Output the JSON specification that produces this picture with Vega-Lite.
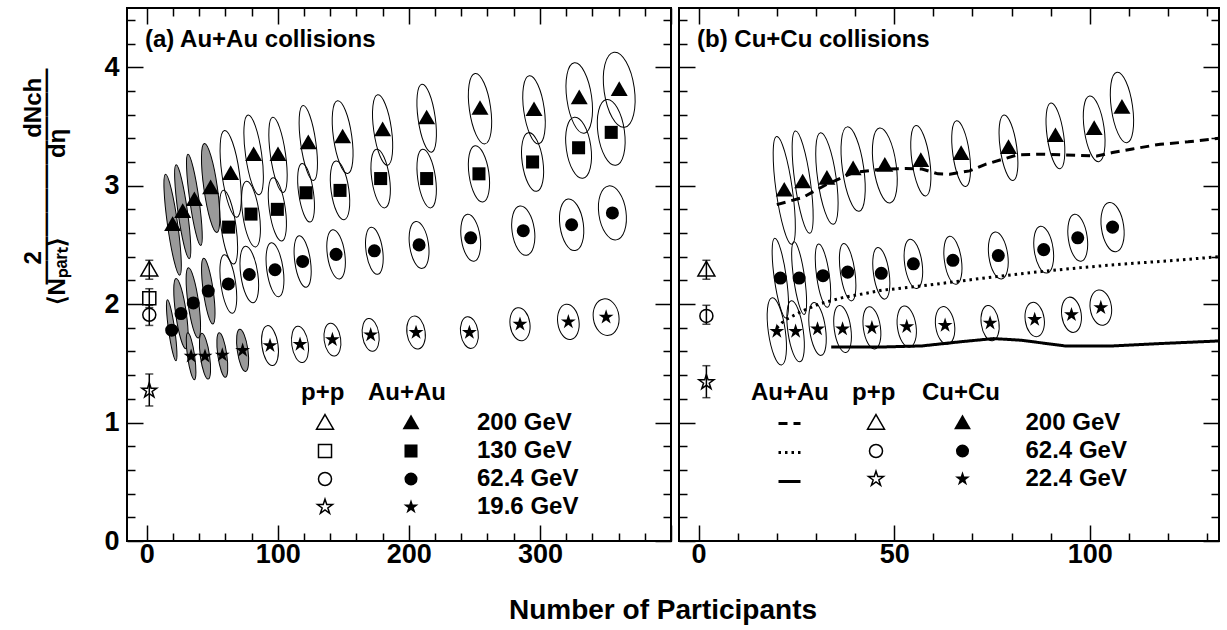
{
  "$schema": "https://vega.github.io/schema/vega-lite/v6.json",
  "background": "white",
  "padding": {"left": 20, "top": 6, "right": 0, "bottom": 0},
  "spacing": 4,
  "title": {"text": "Number of Participants", "orient": "bottom", "anchor": "middle", "fontSize": 28, "fontWeight": "bold", "font": "Liberation Sans", "color": "black", "offset": 29, "dx": 40},
  "config": {
    "font": "Liberation Sans",
    "view": {"stroke": "black", "strokeWidth": 2},
    "axis": {"domain": false, "grid": false, "ticks": true, "tickColor": "black", "tickWidth": 1.5, "labelFont": "Liberation Sans", "labelFontSize": 27, "labelFontWeight": "bold", "labelColor": "black", "titleFont": "Liberation Sans", "titleFontWeight": "bold", "titleColor": "black", "titleFontSize": 24},
    "legend": {"titleFont": "Liberation Sans", "titleFontSize": 24, "titleFontWeight": "bold", "titleColor": "black", "labelFont": "Liberation Sans", "labelFontSize": 24, "labelFontWeight": "bold", "labelColor": "black", "orient": "none", "padding": 0, "rowPadding": 4, "titlePadding": 6, "symbolSize": 170, "labelLimit": 300}
  },
  "datasets": {
    "au": [
      {"energy": "200 GeV", "npart": 19.8, "val": 2.67, "err": 0.43, "ar": 0.1, "band": "shaded"},
      {"energy": "200 GeV", "npart": 27.5, "val": 2.78, "err": 0.40, "ar": 0.1, "band": "shaded"},
      {"energy": "200 GeV", "npart": 36.4, "val": 2.88, "err": 0.39, "ar": 0.1, "band": "shaded"},
      {"energy": "200 GeV", "npart": 48.8, "val": 2.98, "err": 0.38, "ar": 0.15, "band": "shaded"},
      {"energy": "200 GeV", "npart": 64.1, "val": 3.10, "err": 0.37, "ar": 0.2, "band": "open"},
      {"energy": "200 GeV", "npart": 81.6, "val": 3.26, "err": 0.34, "ar": 0.2, "band": "open"},
      {"energy": "200 GeV", "npart": 100.2, "val": 3.26, "err": 0.32, "ar": 0.2, "band": "open"},
      {"energy": "200 GeV", "npart": 123.3, "val": 3.36, "err": 0.32, "ar": 0.2, "band": "open"},
      {"energy": "200 GeV", "npart": 149.5, "val": 3.41, "err": 0.31, "ar": 0.25, "band": "open"},
      {"energy": "200 GeV", "npart": 180, "val": 3.47, "err": 0.30, "ar": 0.25, "band": "open"},
      {"energy": "200 GeV", "npart": 213.6, "val": 3.57, "err": 0.29, "ar": 0.25, "band": "open"},
      {"energy": "200 GeV", "npart": 254.3, "val": 3.65, "err": 0.30, "ar": 0.3, "band": "open"},
      {"energy": "200 GeV", "npart": 295.5, "val": 3.64, "err": 0.29, "ar": 0.3, "band": "open"},
      {"energy": "200 GeV", "npart": 330, "val": 3.74, "err": 0.30, "ar": 0.35, "band": "open"},
      {"energy": "200 GeV", "npart": 360.5, "val": 3.81, "err": 0.32, "ar": 0.4, "band": "open"},
      {"energy": "130 GeV", "npart": 62.5, "val": 2.65, "err": 0.315, "ar": 0.2, "band": "open"},
      {"energy": "130 GeV", "npart": 79.6, "val": 2.76, "err": 0.28, "ar": 0.25, "band": "open"},
      {"energy": "130 GeV", "npart": 99.7, "val": 2.80, "err": 0.27, "ar": 0.25, "band": "open"},
      {"energy": "130 GeV", "npart": 121.6, "val": 2.94, "err": 0.25, "ar": 0.25, "band": "open"},
      {"energy": "130 GeV", "npart": 147.5, "val": 2.96, "err": 0.25, "ar": 0.3, "band": "open"},
      {"energy": "130 GeV", "npart": 178.5, "val": 3.06, "err": 0.25, "ar": 0.3, "band": "open"},
      {"energy": "130 GeV", "npart": 213.6, "val": 3.06, "err": 0.25, "ar": 0.3, "band": "open"},
      {"energy": "130 GeV", "npart": 253.5, "val": 3.10, "err": 0.24, "ar": 0.35, "band": "open"},
      {"energy": "130 GeV", "npart": 294.4, "val": 3.20, "err": 0.25, "ar": 0.35, "band": "open"},
      {"energy": "130 GeV", "npart": 329.5, "val": 3.32, "err": 0.26, "ar": 0.4, "band": "open"},
      {"energy": "130 GeV", "npart": 354.4, "val": 3.45, "err": 0.28, "ar": 0.4, "band": "open"},
      {"energy": "62.4 GeV", "npart": 19.1, "val": 1.78, "err": 0.26, "ar": 0.1, "band": "shaded"},
      {"energy": "62.4 GeV", "npart": 26.2, "val": 1.92, "err": 0.30, "ar": 0.15, "band": "shaded"},
      {"energy": "62.4 GeV", "npart": 35.6, "val": 2.01, "err": 0.30, "ar": 0.15, "band": "shaded"},
      {"energy": "62.4 GeV", "npart": 47, "val": 2.11, "err": 0.28, "ar": 0.15, "band": "shaded"},
      {"energy": "62.4 GeV", "npart": 62.3, "val": 2.17, "err": 0.25, "ar": 0.25, "band": "open"},
      {"energy": "62.4 GeV", "npart": 78.3, "val": 2.25, "err": 0.24, "ar": 0.3, "band": "open"},
      {"energy": "62.4 GeV", "npart": 97.9, "val": 2.29, "err": 0.23, "ar": 0.3, "band": "open"},
      {"energy": "62.4 GeV", "npart": 119, "val": 2.36, "err": 0.22, "ar": 0.3, "band": "open"},
      {"energy": "62.4 GeV", "npart": 144.5, "val": 2.42, "err": 0.21, "ar": 0.35, "band": "open"},
      {"energy": "62.4 GeV", "npart": 173.7, "val": 2.45, "err": 0.20, "ar": 0.35, "band": "open"},
      {"energy": "62.4 GeV", "npart": 207.8, "val": 2.50, "err": 0.20, "ar": 0.4, "band": "open"},
      {"energy": "62.4 GeV", "npart": 247.2, "val": 2.56, "err": 0.20, "ar": 0.4, "band": "open"},
      {"energy": "62.4 GeV", "npart": 287.3, "val": 2.62, "err": 0.21, "ar": 0.45, "band": "open"},
      {"energy": "62.4 GeV", "npart": 324.2, "val": 2.67, "err": 0.22, "ar": 0.45, "band": "open"},
      {"energy": "62.4 GeV", "npart": 355.3, "val": 2.77, "err": 0.23, "ar": 0.5, "band": "open"},
      {"energy": "19.6 GeV", "npart": 33.9, "val": 1.56, "err": 0.20, "ar": 0.15, "band": "shaded"},
      {"energy": "19.6 GeV", "npart": 44.5, "val": 1.56, "err": 0.195, "ar": 0.2, "band": "shaded"},
      {"energy": "19.6 GeV", "npart": 57.7, "val": 1.57, "err": 0.19, "ar": 0.2, "band": "shaded"},
      {"energy": "19.6 GeV", "npart": 73.2, "val": 1.61, "err": 0.18, "ar": 0.25, "band": "shaded"},
      {"energy": "19.6 GeV", "npart": 94.1, "val": 1.65, "err": 0.17, "ar": 0.4, "band": "open"},
      {"energy": "19.6 GeV", "npart": 117, "val": 1.66, "err": 0.155, "ar": 0.45, "band": "open"},
      {"energy": "19.6 GeV", "npart": 141.7, "val": 1.70, "err": 0.14, "ar": 0.5, "band": "open"},
      {"energy": "19.6 GeV", "npart": 170.9, "val": 1.74, "err": 0.14, "ar": 0.5, "band": "open"},
      {"energy": "19.6 GeV", "npart": 205.5, "val": 1.76, "err": 0.14, "ar": 0.55, "band": "open"},
      {"energy": "19.6 GeV", "npart": 246.2, "val": 1.76, "err": 0.135, "ar": 0.55, "band": "open"},
      {"energy": "19.6 GeV", "npart": 284.8, "val": 1.83, "err": 0.14, "ar": 0.6, "band": "open"},
      {"energy": "19.6 GeV", "npart": 321.7, "val": 1.85, "err": 0.15, "ar": 0.6, "band": "open"},
      {"energy": "19.6 GeV", "npart": 350.5, "val": 1.89, "err": 0.155, "ar": 0.7, "band": "open"}
    ],
    "aupp": [
      {"energy": "200 GeV", "npart": 2, "val": 2.29, "lo": 2.21, "hi": 2.37},
      {"energy": "130 GeV", "npart": 2, "val": 2.05, "lo": 1.97, "hi": 2.13},
      {"energy": "62.4 GeV", "npart": 2, "val": 1.91, "lo": 1.82, "hi": 1.99},
      {"energy": "19.6 GeV", "npart": 2, "val": 1.27, "lo": 1.14, "hi": 1.41}
    ],
    "cu": [
      {"energy": "200 GeV", "npart": 21.9, "val": 2.96, "err": 0.46, "ar": 0.15},
      {"energy": "200 GeV", "npart": 26.6, "val": 3.03, "err": 0.436, "ar": 0.15},
      {"energy": "200 GeV", "npart": 32.8, "val": 3.06, "err": 0.39, "ar": 0.2},
      {"energy": "200 GeV", "npart": 39.5, "val": 3.14, "err": 0.36, "ar": 0.25},
      {"energy": "200 GeV", "npart": 47.6, "val": 3.17, "err": 0.32, "ar": 0.3},
      {"energy": "200 GeV", "npart": 56.8, "val": 3.21, "err": 0.30, "ar": 0.25},
      {"energy": "200 GeV", "npart": 67.1, "val": 3.27, "err": 0.28, "ar": 0.25},
      {"energy": "200 GeV", "npart": 79.2, "val": 3.32, "err": 0.28, "ar": 0.25},
      {"energy": "200 GeV", "npart": 91.2, "val": 3.42, "err": 0.28, "ar": 0.25},
      {"energy": "200 GeV", "npart": 101.1, "val": 3.48, "err": 0.28, "ar": 0.3},
      {"energy": "200 GeV", "npart": 108.2, "val": 3.66, "err": 0.30, "ar": 0.3},
      {"energy": "62.4 GeV", "npart": 20.9, "val": 2.22, "err": 0.34, "ar": 0.15},
      {"energy": "62.4 GeV", "npart": 25.7, "val": 2.22, "err": 0.31, "ar": 0.15},
      {"energy": "62.4 GeV", "npart": 31.8, "val": 2.24, "err": 0.27, "ar": 0.2},
      {"energy": "62.4 GeV", "npart": 38.1, "val": 2.27, "err": 0.245, "ar": 0.25},
      {"energy": "62.4 GeV", "npart": 46.7, "val": 2.26, "err": 0.22, "ar": 0.3},
      {"energy": "62.4 GeV", "npart": 54.9, "val": 2.34, "err": 0.21, "ar": 0.35},
      {"energy": "62.4 GeV", "npart": 65, "val": 2.37, "err": 0.205, "ar": 0.35},
      {"energy": "62.4 GeV", "npart": 76.6, "val": 2.41, "err": 0.20, "ar": 0.4},
      {"energy": "62.4 GeV", "npart": 88.2, "val": 2.46, "err": 0.20, "ar": 0.4},
      {"energy": "62.4 GeV", "npart": 96.9, "val": 2.56, "err": 0.20, "ar": 0.4},
      {"energy": "62.4 GeV", "npart": 105.8, "val": 2.65, "err": 0.21, "ar": 0.45},
      {"energy": "22.4 GeV", "npart": 20, "val": 1.77, "err": 0.287, "ar": 0.25},
      {"energy": "22.4 GeV", "npart": 24.8, "val": 1.77, "err": 0.26, "ar": 0.25},
      {"energy": "22.4 GeV", "npart": 30.4, "val": 1.79, "err": 0.225, "ar": 0.3},
      {"energy": "22.4 GeV", "npart": 36.8, "val": 1.79, "err": 0.20, "ar": 0.35},
      {"energy": "22.4 GeV", "npart": 44.3, "val": 1.80, "err": 0.18, "ar": 0.4},
      {"energy": "22.4 GeV", "npart": 53.2, "val": 1.81, "err": 0.175, "ar": 0.45},
      {"energy": "22.4 GeV", "npart": 63, "val": 1.82, "err": 0.16, "ar": 0.5},
      {"energy": "22.4 GeV", "npart": 74.5, "val": 1.84, "err": 0.15, "ar": 0.5},
      {"energy": "22.4 GeV", "npart": 85.9, "val": 1.87, "err": 0.146, "ar": 0.55},
      {"energy": "22.4 GeV", "npart": 95.3, "val": 1.91, "err": 0.15, "ar": 0.55},
      {"energy": "22.4 GeV", "npart": 102.8, "val": 1.97, "err": 0.15, "ar": 0.6}
    ],
    "cupp": [
      {"energy": "200 GeV", "npart": 2, "val": 2.29, "lo": 2.21, "hi": 2.37},
      {"energy": "62.4 GeV", "npart": 2, "val": 1.90, "lo": 1.83, "hi": 1.99},
      {"energy": "22.4 GeV", "npart": 2, "val": 1.34, "lo": 1.21, "hi": 1.48}
    ],
    "auline": [
      {"energy": "200 GeV", "npart": 20.0, "val": 2.84},
      {"energy": "200 GeV", "npart": 26.6, "val": 2.90},
      {"energy": "200 GeV", "npart": 32.7, "val": 3.01},
      {"energy": "200 GeV", "npart": 39.5, "val": 3.11},
      {"energy": "200 GeV", "npart": 46.9, "val": 3.14},
      {"energy": "200 GeV", "npart": 53.0, "val": 3.145},
      {"energy": "200 GeV", "npart": 57.1, "val": 3.14},
      {"energy": "200 GeV", "npart": 61.2, "val": 3.10},
      {"energy": "200 GeV", "npart": 64.2, "val": 3.097},
      {"energy": "200 GeV", "npart": 69.3, "val": 3.125},
      {"energy": "200 GeV", "npart": 73.3, "val": 3.18},
      {"energy": "200 GeV", "npart": 77.4, "val": 3.22},
      {"energy": "200 GeV", "npart": 81.5, "val": 3.26},
      {"energy": "200 GeV", "npart": 87.6, "val": 3.266},
      {"energy": "200 GeV", "npart": 93.6, "val": 3.26},
      {"energy": "200 GeV", "npart": 101.8, "val": 3.25},
      {"energy": "200 GeV", "npart": 105.8, "val": 3.28},
      {"energy": "200 GeV", "npart": 110.9, "val": 3.31},
      {"energy": "200 GeV", "npart": 118, "val": 3.35},
      {"energy": "200 GeV", "npart": 125.1, "val": 3.37},
      {"energy": "200 GeV", "npart": 133, "val": 3.40},
      {"energy": "62.4 GeV", "npart": 20.0, "val": 1.80},
      {"energy": "62.4 GeV", "npart": 22.0, "val": 1.864},
      {"energy": "62.4 GeV", "npart": 26.6, "val": 1.943},
      {"energy": "62.4 GeV", "npart": 30.7, "val": 2.0},
      {"energy": "62.4 GeV", "npart": 36.8, "val": 2.055},
      {"energy": "62.4 GeV", "npart": 46.9, "val": 2.117},
      {"energy": "62.4 GeV", "npart": 57.1, "val": 2.154},
      {"energy": "62.4 GeV", "npart": 67.2, "val": 2.196},
      {"energy": "62.4 GeV", "npart": 77.4, "val": 2.238},
      {"energy": "62.4 GeV", "npart": 87.6, "val": 2.275},
      {"energy": "62.4 GeV", "npart": 97.7, "val": 2.308},
      {"energy": "62.4 GeV", "npart": 107.9, "val": 2.337},
      {"energy": "62.4 GeV", "npart": 120, "val": 2.365},
      {"energy": "62.4 GeV", "npart": 133, "val": 2.40},
      {"energy": "19.6 GeV", "npart": 33.9, "val": 1.638},
      {"energy": "19.6 GeV", "npart": 46.9, "val": 1.638},
      {"energy": "19.6 GeV", "npart": 57.1, "val": 1.647},
      {"energy": "19.6 GeV", "npart": 67.2, "val": 1.683},
      {"energy": "19.6 GeV", "npart": 75.4, "val": 1.709},
      {"energy": "19.6 GeV", "npart": 82.5, "val": 1.695},
      {"energy": "19.6 GeV", "npart": 93.6, "val": 1.647},
      {"energy": "19.6 GeV", "npart": 105.8, "val": 1.647},
      {"energy": "19.6 GeV", "npart": 118, "val": 1.667},
      {"energy": "19.6 GeV", "npart": 133, "val": 1.689}
    ]
  },
  "hconcat": [
    {
      "width": 544,
      "height": 533,
      "title": {"text": "(a) Au+Au collisions", "anchor": "start", "frame": "group", "orient": "top", "offset": 0, "dx": 18, "dy": 64, "baseline": "alphabetic", "fontSize": 24, "fontWeight": "bold", "font": "Liberation Sans", "color": "black"},
      "resolve": {"scale": {"shape": "independent"}, "legend": {"shape": "independent"}, "axis": {"x": "independent", "y": "independent"}},
      "layer": [
        {
          "data": {"name": "au"},
          "mark": {"type": "point", "filled": true, "stroke": "black", "strokeWidth": 1, "angle": -8, "opacity": 1},
          "encoding": {
            "x": {"field": "npart", "type": "quantitative", "scale": {"domain": [-15, 400], "nice": false, "zero": false},
              "axis": {"orient": "bottom", "values": [0, 100, 200, 300, 400], "labelExpr": "datum.value < 350 ? datum.label : ''", "tickSize": -16, "labelPadding": 16, "title": null}},
            "y": {"field": "val", "type": "quantitative", "scale": {"domain": [0, 4.5], "nice": false, "zero": false},
              "axis": {"orient": "left", "values": [0, 1, 2, 3, 4], "tickSize": -16, "labelPadding": 24,
                "title": ["\u200b\u00a0\u00a0\u00a0\u00a0\u00a0\u00a02\u00a0\u00a0\u00a0\u00a0\u00a0\u00a0\u00a0\u00a0\u00a0\u00a0\u00a0\u00a0\u00a0\u00a0\u00a0\u00a0\u00a0dNch", "\u200b\u00a0\u00a0\u00a0\u2014\u2014\u2014\u2014\u2014\u2014\u2014\u2014\u2014", "\u27e8N\u209a\u2090\u1d63\u209c\u27e9\u00a0\u00a0\u00a0\u00a0\u00a0\u00a0\u00a0\u00a0\u00a0\u00a0\u00a0\u00a0d\u03b7"],
                "titleFontSize": 24, "titleAngle": -90, "titleAlign": "left", "titleBaseline": "alphabetic", "titleLineHeight": 12, "titleX": -87, "titleY": 296}}
            ,
            "shape": {"field": "ar", "type": "ordinal", "legend": null, "scale": {"domain": [0.1, 0.15, 0.2, 0.25, 0.3, 0.35, 0.4, 0.45, 0.5, 0.55, 0.6, 0.7], "range": [
              "M0,-1C0.0552,-1 0.1,-0.5523 0.1,0C0.1,0.5523 0.0552,1 0,1C-0.0552,1 -0.1,0.5523 -0.1,0C-0.1,-0.5523 -0.0552,-1 0,-1Z",
              "M0,-1C0.0828,-1 0.15,-0.5523 0.15,0C0.15,0.5523 0.0828,1 0,1C-0.0828,1 -0.15,0.5523 -0.15,0C-0.15,-0.5523 -0.0828,-1 0,-1Z",
              "M0,-1C0.1105,-1 0.2,-0.5523 0.2,0C0.2,0.5523 0.1105,1 0,1C-0.1105,1 -0.2,0.5523 -0.2,0C-0.2,-0.5523 -0.1105,-1 0,-1Z",
              "M0,-1C0.1381,-1 0.25,-0.5523 0.25,0C0.25,0.5523 0.1381,1 0,1C-0.1381,1 -0.25,0.5523 -0.25,0C-0.25,-0.5523 -0.1381,-1 0,-1Z",
              "M0,-1C0.1657,-1 0.3,-0.5523 0.3,0C0.3,0.5523 0.1657,1 0,1C-0.1657,1 -0.3,0.5523 -0.3,0C-0.3,-0.5523 -0.1657,-1 0,-1Z",
              "M0,-1C0.1933,-1 0.35,-0.5523 0.35,0C0.35,0.5523 0.1933,1 0,1C-0.1933,1 -0.35,0.5523 -0.35,0C-0.35,-0.5523 -0.1933,-1 0,-1Z",
              "M0,-1C0.2209,-1 0.4,-0.5523 0.4,0C0.4,0.5523 0.2209,1 0,1C-0.2209,1 -0.4,0.5523 -0.4,0C-0.4,-0.5523 -0.2209,-1 0,-1Z",
              "M0,-1C0.2485,-1 0.45,-0.5523 0.45,0C0.45,0.5523 0.2485,1 0,1C-0.2485,1 -0.45,0.5523 -0.45,0C-0.45,-0.5523 -0.2485,-1 0,-1Z",
              "M0,-1C0.2762,-1 0.5,-0.5523 0.5,0C0.5,0.5523 0.2762,1 0,1C-0.2762,1 -0.5,0.5523 -0.5,0C-0.5,-0.5523 -0.2762,-1 0,-1Z",
              "M0,-1C0.3038,-1 0.55,-0.5523 0.55,0C0.55,0.5523 0.3038,1 0,1C-0.3038,1 -0.55,0.5523 -0.55,0C-0.55,-0.5523 -0.3038,-1 0,-1Z",
              "M0,-1C0.3314,-1 0.6,-0.5523 0.6,0C0.6,0.5523 0.3314,1 0,1C-0.3314,1 -0.6,0.5523 -0.6,0C-0.6,-0.5523 -0.3314,-1 0,-1Z",
              "M0,-1C0.3866,-1 0.7,-0.5523 0.7,0C0.7,0.5523 0.3866,1 0,1C-0.3866,1 -0.7,0.5523 -0.7,0C-0.7,-0.5523 -0.3866,-1 0,-1Z"]}},
            "size": {"field": "err", "type": "quantitative", "legend": null, "scale": {"type": "pow", "exponent": 2, "domain": [0, 1], "range": [0, 56074]}},
            "fill": {"field": "band", "type": "nominal", "legend": null, "scale": {"domain": ["shaded", "open"], "range": ["#9a9a9a", "transparent"]}}
          }
        },
        {
          "data": {"name": "au"},
          "mark": {"type": "point", "filled": true, "color": "black", "size": 170, "opacity": 1},
          "encoding": {
            "x": {"field": "npart", "type": "quantitative", "scale": {"domain": [-15, 400], "nice": false, "zero": false},
              "axis": {"orient": "top", "values": [0, 100, 200, 300, 400], "tickSize": -16, "labels": false, "title": null}},
            "y": {"field": "val", "type": "quantitative", "scale": {"domain": [0, 4.5], "nice": false, "zero": false},
              "axis": {"orient": "right", "values": [0, 1, 2, 3, 4], "tickSize": -16, "labels": false, "title": null}},
            "shape": {"field": "energy", "type": "nominal",
              "scale": {"domain": ["200 GeV", "130 GeV", "62.4 GeV", "19.6 GeV"], "range": ["M0,-1.3L1.3,0.95L-1.3,0.95Z", "square", "circle", "M0,-1.2L0.2694,-0.3708L1.1413,-0.3708L0.436,0.1416L0.7054,0.9708L0,0.4584L-0.7054,0.9708L-0.436,0.1416L-1.1413,-0.3708L-0.2694,-0.3708Z"]},
              "legend": {"title": "Au+Au", "legendX": 241, "legendY": 373, "symbolOffset": 31, "labelOffset": 54, "symbolFillColor": "black", "symbolStrokeWidth": 0}}
          }
        },
        {
          "data": {"name": "aupp"},
          "mark": {"type": "rule", "color": "black", "strokeWidth": 1.5},
          "encoding": {
            "x": {"field": "npart", "type": "quantitative", "scale": {"domain": [-15, 400], "nice": false, "zero": false},
              "axis": {"orient": "bottom", "values": [20, 40, 60, 80, 120, 140, 160, 180, 220, 240, 260, 280, 320, 340, 360, 380], "tickSize": -8, "labels": false, "title": null}},
            "y": {"field": "lo", "type": "quantitative", "scale": {"domain": [0, 4.5], "nice": false, "zero": false},
              "axis": {"orient": "left", "values": [0.2, 0.4, 0.6, 0.8, 1.2, 1.4, 1.6, 1.8, 2.2, 2.4, 2.6, 2.8, 3.2, 3.4, 3.6, 3.8, 4.2, 4.4], "tickSize": -8, "labels": false, "title": null}},
            "y2": {"field": "hi"}
          }
        },
        {
          "data": {"name": "aupp"},
          "mark": {"type": "tick", "orient": "horizontal", "color": "black", "size": 8, "thickness": 1.5},
          "encoding": {
            "x": {"field": "npart", "type": "quantitative", "scale": {"domain": [-15, 400], "nice": false, "zero": false}, "axis": null},
            "y": {"field": "lo", "type": "quantitative", "scale": {"domain": [0, 4.5], "nice": false, "zero": false}, "axis": null}
          }
        },
        {
          "data": {"name": "aupp"},
          "mark": {"type": "tick", "orient": "horizontal", "color": "black", "size": 8, "thickness": 1.5},
          "encoding": {
            "x": {"field": "npart", "type": "quantitative", "scale": {"domain": [-15, 400], "nice": false, "zero": false}, "axis": null},
            "y": {"field": "hi", "type": "quantitative", "scale": {"domain": [0, 4.5], "nice": false, "zero": false}, "axis": null}
          }
        },
        {
          "data": {"name": "aupp"},
          "mark": {"type": "point", "filled": false, "color": "black", "strokeWidth": 1.5, "size": 170, "opacity": 1},
          "encoding": {
            "x": {"field": "npart", "type": "quantitative", "scale": {"domain": [-15, 400], "nice": false, "zero": false},
              "axis": {"orient": "top", "values": [20, 40, 60, 80, 120, 140, 160, 180, 220, 240, 260, 280, 320, 340, 360, 380], "tickSize": -8, "labels": false, "title": null}},
            "y": {"field": "val", "type": "quantitative", "scale": {"domain": [0, 4.5], "nice": false, "zero": false},
              "axis": {"orient": "right", "values": [0.2, 0.4, 0.6, 0.8, 1.2, 1.4, 1.6, 1.8, 2.2, 2.4, 2.6, 2.8, 3.2, 3.4, 3.6, 3.8, 4.2, 4.4], "tickSize": -8, "labels": false, "title": null}},
            "shape": {"field": "energy", "type": "nominal",
              "scale": {"domain": ["200 GeV", "130 GeV", "62.4 GeV", "19.6 GeV"], "range": ["M0,-1.3L1.3,0.95L-1.3,0.95Z", "square", "circle", "M0,-1.2L0.2694,-0.3708L1.1413,-0.3708L0.436,0.1416L0.7054,0.9708L0,0.4584L-0.7054,0.9708L-0.436,0.1416L-1.1413,-0.3708L-0.2694,-0.3708Z"]},
              "legend": {"title": "p+p", "legendX": 174, "legendY": 373, "symbolOffset": 12, "labelExpr": "''", "symbolStrokeWidth": 1.5}}
          }
        }
      ]
    },
    {
      "width": 540,
      "height": 533,
      "title": {"text": "(b) Cu+Cu collisions", "anchor": "start", "frame": "group", "orient": "top", "offset": 0, "dx": 18, "dy": 64, "baseline": "alphabetic", "fontSize": 24, "fontWeight": "bold", "font": "Liberation Sans", "color": "black"},
      "resolve": {"scale": {"shape": "independent"}, "legend": {"shape": "independent", "strokeDash": "independent"}, "axis": {"x": "independent", "y": "independent"}},
      "layer": [
        {
          "data": {"name": "cu"},
          "mark": {"type": "point", "filled": false, "color": "black", "strokeWidth": 1, "angle": -8, "opacity": 1},
          "encoding": {
            "x": {"field": "npart", "type": "quantitative", "scale": {"domain": [-5, 133], "nice": false, "zero": false},
              "axis": {"orient": "bottom", "values": [0, 50, 100], "tickSize": -16, "labelPadding": 16, "title": null}},
            "y": {"field": "val", "type": "quantitative", "scale": {"domain": [0, 4.5], "nice": false, "zero": false},
              "axis": {"orient": "left", "values": [0, 1, 2, 3, 4], "tickSize": -16, "labels": false, "title": null}},
            "shape": {"field": "ar", "type": "ordinal", "legend": null, "scale": {"domain": [0.1, 0.15, 0.2, 0.25, 0.3, 0.35, 0.4, 0.45, 0.5, 0.55, 0.6, 0.7], "range": [
              "M0,-1C0.0552,-1 0.1,-0.5523 0.1,0C0.1,0.5523 0.0552,1 0,1C-0.0552,1 -0.1,0.5523 -0.1,0C-0.1,-0.5523 -0.0552,-1 0,-1Z",
              "M0,-1C0.0828,-1 0.15,-0.5523 0.15,0C0.15,0.5523 0.0828,1 0,1C-0.0828,1 -0.15,0.5523 -0.15,0C-0.15,-0.5523 -0.0828,-1 0,-1Z",
              "M0,-1C0.1105,-1 0.2,-0.5523 0.2,0C0.2,0.5523 0.1105,1 0,1C-0.1105,1 -0.2,0.5523 -0.2,0C-0.2,-0.5523 -0.1105,-1 0,-1Z",
              "M0,-1C0.1381,-1 0.25,-0.5523 0.25,0C0.25,0.5523 0.1381,1 0,1C-0.1381,1 -0.25,0.5523 -0.25,0C-0.25,-0.5523 -0.1381,-1 0,-1Z",
              "M0,-1C0.1657,-1 0.3,-0.5523 0.3,0C0.3,0.5523 0.1657,1 0,1C-0.1657,1 -0.3,0.5523 -0.3,0C-0.3,-0.5523 -0.1657,-1 0,-1Z",
              "M0,-1C0.1933,-1 0.35,-0.5523 0.35,0C0.35,0.5523 0.1933,1 0,1C-0.1933,1 -0.35,0.5523 -0.35,0C-0.35,-0.5523 -0.1933,-1 0,-1Z",
              "M0,-1C0.2209,-1 0.4,-0.5523 0.4,0C0.4,0.5523 0.2209,1 0,1C-0.2209,1 -0.4,0.5523 -0.4,0C-0.4,-0.5523 -0.2209,-1 0,-1Z",
              "M0,-1C0.2485,-1 0.45,-0.5523 0.45,0C0.45,0.5523 0.2485,1 0,1C-0.2485,1 -0.45,0.5523 -0.45,0C-0.45,-0.5523 -0.2485,-1 0,-1Z",
              "M0,-1C0.2762,-1 0.5,-0.5523 0.5,0C0.5,0.5523 0.2762,1 0,1C-0.2762,1 -0.5,0.5523 -0.5,0C-0.5,-0.5523 -0.2762,-1 0,-1Z",
              "M0,-1C0.3038,-1 0.55,-0.5523 0.55,0C0.55,0.5523 0.3038,1 0,1C-0.3038,1 -0.55,0.5523 -0.55,0C-0.55,-0.5523 -0.3038,-1 0,-1Z",
              "M0,-1C0.3314,-1 0.6,-0.5523 0.6,0C0.6,0.5523 0.3314,1 0,1C-0.3314,1 -0.6,0.5523 -0.6,0C-0.6,-0.5523 -0.3314,-1 0,-1Z",
              "M0,-1C0.3866,-1 0.7,-0.5523 0.7,0C0.7,0.5523 0.3866,1 0,1C-0.3866,1 -0.7,0.5523 -0.7,0C-0.7,-0.5523 -0.3866,-1 0,-1Z"]}},
            "size": {"field": "err", "type": "quantitative", "legend": null, "scale": {"type": "pow", "exponent": 2, "domain": [0, 1], "range": [0, 56074]}}
          }
        },
        {
          "data": {"name": "auline"},
          "mark": {"type": "line", "color": "black", "strokeWidth": 3},
          "encoding": {
            "x": {"field": "npart", "type": "quantitative", "scale": {"domain": [-5, 133], "nice": false, "zero": false},
              "axis": {"orient": "top", "values": [0, 50, 100], "tickSize": -16, "labels": false, "title": null}},
            "y": {"field": "val", "type": "quantitative", "scale": {"domain": [0, 4.5], "nice": false, "zero": false},
              "axis": {"orient": "right", "values": [0, 1, 2, 3, 4], "tickSize": -16, "labels": false, "title": null}},
            "strokeDash": {"field": "energy", "type": "nominal",
              "scale": {"domain": ["200 GeV", "62.4 GeV", "19.6 GeV"], "range": [[9, 6], [2.5, 4], [1, 0]]},
              "legend": {"title": "Au+Au", "legendX": 72, "legendY": 373, "symbolOffset": 26, "labelExpr": "''", "symbolSize": 484, "symbolStrokeWidth": 3}}
          }
        },
        {
          "data": {"name": "cu"},
          "mark": {"type": "point", "filled": true, "color": "black", "size": 170, "opacity": 1},
          "encoding": {
            "x": {"field": "npart", "type": "quantitative", "scale": {"domain": [-5, 133], "nice": false, "zero": false},
              "axis": {"orient": "bottom", "values": [10, 20, 30, 40, 60, 70, 80, 90, 110, 120, 130], "tickSize": -8, "labels": false, "title": null}},
            "y": {"field": "val", "type": "quantitative", "scale": {"domain": [0, 4.5], "nice": false, "zero": false},
              "axis": {"orient": "left", "values": [0.2, 0.4, 0.6, 0.8, 1.2, 1.4, 1.6, 1.8, 2.2, 2.4, 2.6, 2.8, 3.2, 3.4, 3.6, 3.8, 4.2, 4.4], "tickSize": -8, "labels": false, "title": null}},
            "shape": {"field": "energy", "type": "nominal",
              "scale": {"domain": ["200 GeV", "62.4 GeV", "22.4 GeV"], "range": ["M0,-1.3L1.3,0.95L-1.3,0.95Z", "circle", "M0,-1.2L0.2694,-0.3708L1.1413,-0.3708L0.436,0.1416L0.7054,0.9708L0,0.4584L-0.7054,0.9708L-0.436,0.1416L-1.1413,-0.3708L-0.2694,-0.3708Z"]},
              "legend": {"title": "Cu+Cu", "legendX": 243, "legendY": 373, "symbolOffset": 28.5, "labelOffset": 51, "symbolFillColor": "black", "symbolStrokeWidth": 0}}
          }
        },
        {
          "data": {"name": "cupp"},
          "mark": {"type": "rule", "color": "black", "strokeWidth": 1.5},
          "encoding": {
            "x": {"field": "npart", "type": "quantitative", "scale": {"domain": [-5, 133], "nice": false, "zero": false},
              "axis": {"orient": "top", "values": [10, 20, 30, 40, 60, 70, 80, 90, 110, 120, 130], "tickSize": -8, "labels": false, "title": null}},
            "y": {"field": "lo", "type": "quantitative", "scale": {"domain": [0, 4.5], "nice": false, "zero": false},
              "axis": {"orient": "right", "values": [0.2, 0.4, 0.6, 0.8, 1.2, 1.4, 1.6, 1.8, 2.2, 2.4, 2.6, 2.8, 3.2, 3.4, 3.6, 3.8, 4.2, 4.4], "tickSize": -8, "labels": false, "title": null}},
            "y2": {"field": "hi"}
          }
        },
        {
          "data": {"name": "cupp"},
          "mark": {"type": "tick", "orient": "horizontal", "color": "black", "size": 8, "thickness": 1.5},
          "encoding": {
            "x": {"field": "npart", "type": "quantitative", "scale": {"domain": [-5, 133], "nice": false, "zero": false}, "axis": null},
            "y": {"field": "lo", "type": "quantitative", "scale": {"domain": [0, 4.5], "nice": false, "zero": false}, "axis": null}
          }
        },
        {
          "data": {"name": "cupp"},
          "mark": {"type": "tick", "orient": "horizontal", "color": "black", "size": 8, "thickness": 1.5},
          "encoding": {
            "x": {"field": "npart", "type": "quantitative", "scale": {"domain": [-5, 133], "nice": false, "zero": false}, "axis": null},
            "y": {"field": "hi", "type": "quantitative", "scale": {"domain": [0, 4.5], "nice": false, "zero": false}, "axis": null}
          }
        },
        {
          "data": {"name": "cupp"},
          "mark": {"type": "point", "filled": false, "color": "black", "strokeWidth": 1.5, "size": 170, "opacity": 1},
          "encoding": {
            "x": {"field": "npart", "type": "quantitative", "scale": {"domain": [-5, 133], "nice": false, "zero": false}, "axis": null},
            "y": {"field": "val", "type": "quantitative", "scale": {"domain": [0, 4.5], "nice": false, "zero": false}, "axis": null},
            "shape": {"field": "energy", "type": "nominal",
              "scale": {"domain": ["200 GeV", "62.4 GeV", "22.4 GeV"], "range": ["M0,-1.3L1.3,0.95L-1.3,0.95Z", "circle", "M0,-1.2L0.2694,-0.3708L1.1413,-0.3708L0.436,0.1416L0.7054,0.9708L0,0.4584L-0.7054,0.9708L-0.436,0.1416L-1.1413,-0.3708L-0.2694,-0.3708Z"]},
              "legend": {"title": "p+p", "legendX": 173, "legendY": 373, "symbolOffset": 12, "labelExpr": "''", "symbolStrokeWidth": 1.5}}
          }
        }
      ]
    }
  ]
}
